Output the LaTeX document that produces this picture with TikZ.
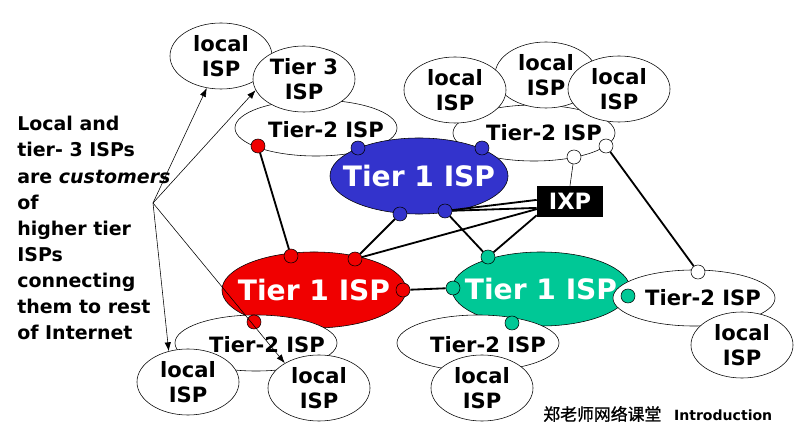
\documentclass[tikz,border=0pt]{standalone}
\usepackage{fontspec}
\setmainfont{DejaVu Sans}
\newfontfamily\cjk{Noto Sans CJK SC}[FakeBold=1.2]
\usetikzlibrary{arrows.meta,shapes.geometric}

\definecolor{tonblue}{RGB}{51,51,204}
\definecolor{tonred}{RGB}{240,0,0}
\definecolor{tongreen}{RGB}{0,200,150}

\begin{document}
\begin{tikzpicture}[x=0.025cm,y=-0.025cm,>={Latex[length=2.2mm,width=1.6mm]},
  isp/.style 2 args={ellipse,draw,thin,fill=white,inner sep=0pt,
    minimum width=#1*0.05cm,minimum height=#2*0.05cm},
  loc/.style={isp={51}{33},font=\bfseries\fontsize{15}{18}\selectfont,align=center},
  ttwo/.style={isp={81}{28}},
  ttxt/.style={font=\bfseries\fontsize{15}{18}\selectfont,inner sep=0pt},
  tone/.style={fill=#1,text=white,font=\bfseries\fontsize{20}{24}\selectfont},
  dot/.style={circle,draw,thin,fill=#1,inner sep=0pt,minimum size=0.35cm},
  link/.style={line width=1.3pt},
  cust/.style={->,thin}]
  \useasboundingbox (0,0) rectangle (798,426);

  \node[ttwo] (t2nw) at (316,128) {};
  \node[ttwo] (t2ne) at (534,133) {};
  \node[ttxt] (t2nwtxt) at (326,130) {Tier-2 ISP};
  \node[ttxt] (t2netxt) at (544,133) {Tier-2 ISP};

  \node[isp={89}{38},tone=tonblue] (blue) at (419,176) {\makebox[0pt]{Tier 1 ISP}};
  \node[isp={92}{38},tone=tonred] (red) at (314,290) {\makebox[0pt]{Tier 1 ISP}};
  \node[isp={89}{37},tone=tongreen] (green) at (541,289) {\makebox[0pt]{Tier 1 ISP}};

  \node[ttwo] (t2sw) at (256,343) {};
  \node[ttwo] (t2s) at (478,343) {};
  \node[ttwo] (t2e) at (694,298) {};
  \node[ttxt] (t2swtxt) at (267,345) {Tier-2 ISP};
  \node[ttxt] (t2stxt) at (488,345) {Tier-2 ISP};
  \node[ttxt] (t2etxt) at (703,298) {Tier-2 ISP};

  \node[loc] (locnw) at (221,56) {local\\ISP};
  \node[loc] (tier3) at (304,79) {Tier 3\\ISP};
  \node[loc] (locn2) at (546,75) {local\\ISP};
  \node[loc] (locn1) at (455,90) {local\\ISP};
  \node[loc] (locn3) at (619,89) {local\\ISP};
  \node[loc] (locsw1) at (188,382) {local\\ISP};
  \node[loc] (locsw2) at (319,388) {local\\ISP};
  \node[loc] (locs) at (482,388) {local\\ISP};
  \node[loc] (loce) at (742,345) {local\\ISP};

  \node[fill=black,text=white,inner sep=0pt,minimum width=1.65cm,minimum height=0.775cm,
    font=\bfseries\fontsize{16}{18}\selectfont] (ixp) at (570,201.5) {IXP};

  \node[dot=tonred] (dr1) at (258,146) {};
  \node[dot=tonred] (dr2) at (291,256) {};
  \node[dot=tonred] (dr3) at (355,259) {};
  \node[dot=tonred] (dr4) at (403,290) {};
  \node[dot=tonred] (dr5) at (254,322) {};
  \node[dot=tonblue] (db1) at (358,148) {};
  \node[dot=tonblue] (db2) at (482,148) {};
  \node[dot=tonblue] (db3) at (400,214) {};
  \node[dot=tonblue] (db4) at (445,211) {};
  \node[dot=tongreen] (dg1) at (488,257) {};
  \node[dot=tongreen] (dg2) at (453,288) {};
  \node[dot=tongreen] (dg3) at (512,323) {};
  \node[dot=tongreen] (dg4) at (628,296) {};
  \node[dot=white] (dw1) at (574,157) {};
  \node[dot=white] (dw2) at (606,146) {};
  \node[dot=white] (dw3) at (698,272) {};

  \draw[link] (dr1) -- (dr2);
  \draw[link] (db3) -- (dr3);
  \draw[link] (db4) -- (dg1);
  \draw[link] (dr4) -- (dg2);
  \draw[link] (dw2) -- (dw3);
  \draw[thin] (dw1) -- (ixp.north);
  \draw[link] (db4) -- ([yshift=0.04cm]ixp.west);
  \draw[link] (db4) -- ([yshift=-0.16cm]ixp.west);
  \draw[link] (dr3) -- ([yshift=-0.19cm]ixp.west);
  \draw[link] (dg1) -- ([yshift=0.05cm]ixp.south west);

  \node[anchor=north west,inner sep=0pt,align=left,
    font=\bfseries\fontsize{13.5}{18.6}\selectfont] (note) at (17,116)
    {Local and\\tier- 3 ISPs\\are \textit{customers}\\of\\higher tier\\ISPs\\connecting\\them to rest\\of Internet};
  \coordinate (src) at (153,203);
  \draw[cust] (src) -- (locnw.246);
  \draw[cust] (src) -- (tier3.193);
  \draw[cust] (src) -- (locsw1.122);
  \draw[cust] (src) -- (locsw2.144);

  \node[anchor=west,inner sep=0pt] (mark) at (543,414)
    {{\cjk\fontsize{12}{14}\selectfont 郑老师网络课堂}\hspace{0.9em}{\bfseries\fontsize{10}{12}\selectfont Introduction}};
\end{tikzpicture}
\end{document}
